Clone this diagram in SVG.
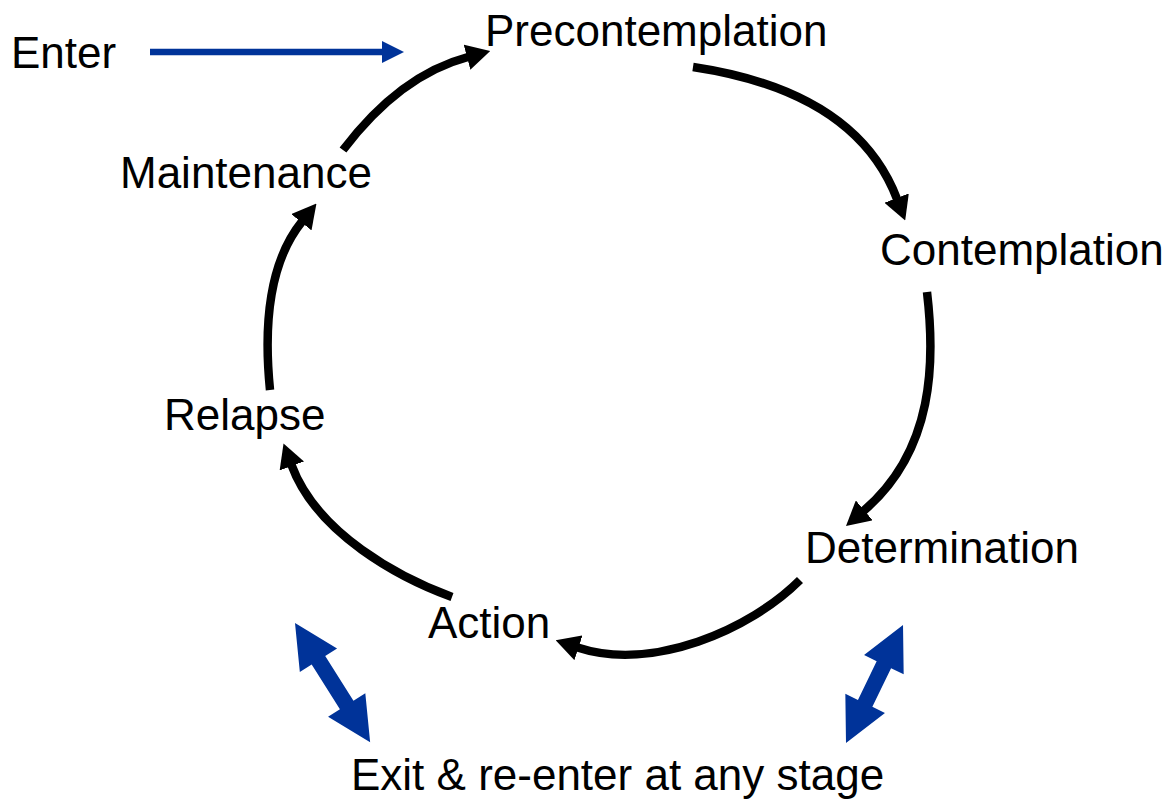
<svg xmlns="http://www.w3.org/2000/svg" width="1169" height="800" viewBox="0 0 1169 800">
  <style>
    .lbl { font-family: "Liberation Sans", Arial, sans-serif; font-size: 44px; fill: #000; }
    .cyc { fill: none; stroke: #000; stroke-width: 8.5; marker-end: url(#ah); }
    .blue { fill: #003399; }
  </style>
  <defs>
    <marker id="ah" viewBox="0 0 24 26" refX="1" refY="13" markerWidth="24" markerHeight="26" markerUnits="userSpaceOnUse" orient="auto">
      <path d="M0,0 L24,13 L0,26 Z" fill="#000"/>
    </marker>
  </defs>
  <rect width="1169" height="800" fill="#fff"/>

  <g id="connectors">
    <g id="enter-arrow">
      <line x1="150" y1="52" x2="383" y2="52" stroke="#003399" stroke-width="6.5"/>
      <polygon class="blue" points="382,41 404,52 382,63"/>
    </g>
    <path class="cyc" d="M343,150 Q400,75 468,57"/>
    <path class="cyc" d="M693,67 Q856,91.5 897,199"/>
    <path class="cyc" d="M927,292 C935,360 935,450 863.5,511"/>
    <path class="cyc" d="M800,580 C750,630 652,672 577.5,647.5"/>
    <path class="cyc" d="M452,597 C400,578 317,534 291.5,465"/>
    <path class="cyc" d="M270,390 C265,340 264.5,268 302,221.5"/>
    <polygon class="blue" transform="translate(295,623) rotate(57.8)" points="0,0 44,-22 44,-8 97,-8 97,-22 141,0 97,22 97,8 44,8 44,22"/>
    <polygon class="blue" transform="translate(846,743) rotate(-64.2)" points="0,0 44,-22 44,-8 87,-8 87,-22 131,0 87,22 87,8 44,8 44,22"/>
  </g>

  <g id="enter"><text class="lbl" x="11" y="68">Enter</text></g>
  <g id="precontemplation"><text class="lbl" x="485" y="46">Precontemplation</text></g>
  <g id="contemplation"><text class="lbl" x="880" y="265">Contemplation</text></g>
  <g id="determination"><text class="lbl" x="805" y="563">Determination</text></g>
  <g id="action"><text class="lbl" x="428" y="638">Action</text></g>
  <g id="relapse"><text class="lbl" x="164" y="430">Relapse</text></g>
  <g id="maintenance"><text class="lbl" x="120" y="188">Maintenance</text></g>
  <g id="exit"><text class="lbl" x="351" y="790">Exit &amp; re-enter at any stage</text></g>
</svg>
